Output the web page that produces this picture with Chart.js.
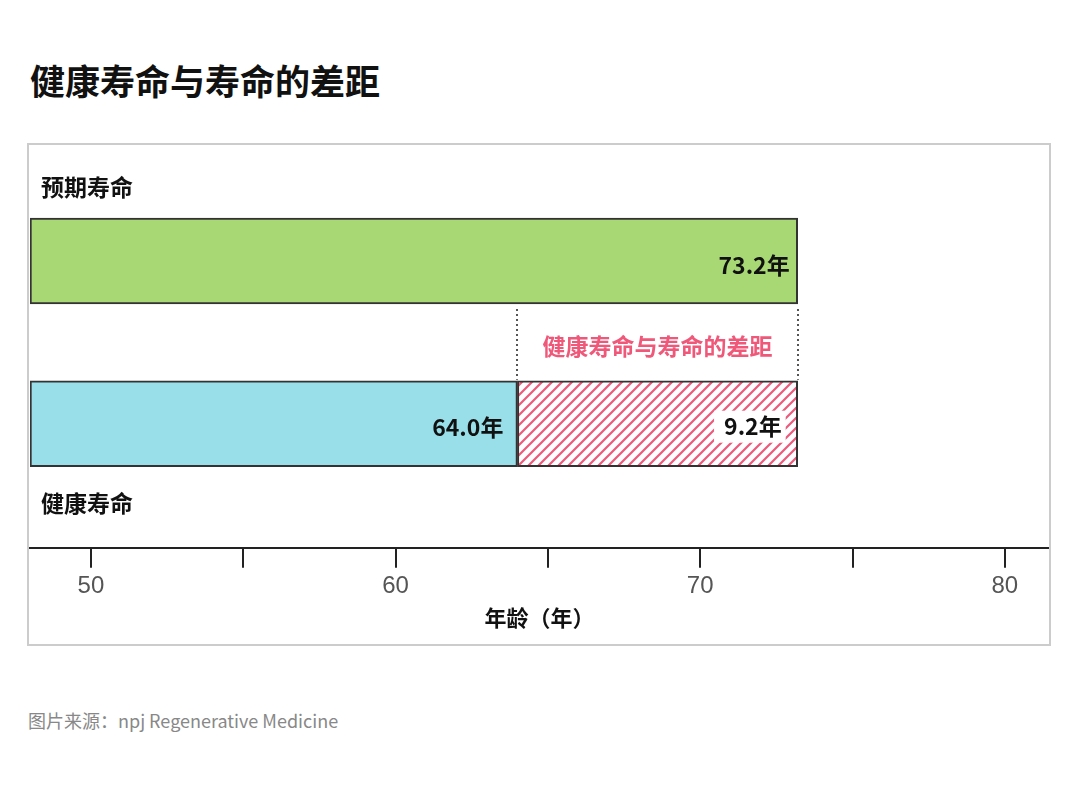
<!DOCTYPE html>
<html><head><meta charset="utf-8">
<script src="https://cdn.jsdelivr.net/npm/chart.js@4"></script>
<style>
body{margin:0;width:1080px;height:810px;background:#fff;font-family:"Noto Sans CJK SC",sans-serif;position:relative}
#t{position:absolute;left:30px;top:54px;font-size:35px;font-weight:bold;color:#111}
#box{position:absolute;left:27px;top:143px;width:1020px;height:499px;border:2px solid #ccc}
#src{position:absolute;left:28px;top:707px;font-size:18px;color:#888}
</style></head><body>
<div id="t">健康寿命与寿命的差距</div>
<div id="box"><canvas id="c" width="1020" height="499"></canvas></div>
<div id="src">图片来源：npj Regenerative Medicine</div>
<script>
const categories=['预期寿命','健康寿命'];
const lifeExpectancy=73.2;
const healthyLife=64.0;
const gapValue=9.2;
const axisMin=48, axisMax=81.45;
const tickLabels=['50','60','70','80'];

const pink='#f0587a';
function hatch(){const p=document.createElement('canvas');p.width=10;p.height=10;const g=p.getContext('2d');
g.fillStyle='#fff';g.fillRect(0,0,10,10);g.strokeStyle=pink;g.lineWidth=2.2;
g.beginPath();g.moveTo(-2,12);g.lineTo(12,-2);g.moveTo(-2,2);g.lineTo(2,-2);g.moveTo(8,12);g.lineTo(12,8);g.stroke();
return g.createPattern(p,'repeat');}
const ctx0=document.getElementById('c').getContext('2d');
const labelPlugin={id:'lbl',afterDatasetsDraw(ch){
 const g=ch.ctx,x=ch.scales.x,y=ch.scales.y;
 g.save();g.font='bold 23px "Noto Sans CJK SC"';g.fillStyle='#111';g.textBaseline='middle';
 g.textAlign='left';g.fillText(categories[0],12,y.getPixelForValue(1)-74);
 g.fillText(categories[1],12,y.getPixelForValue(3)+80);
 g.textAlign='right';
 g.fillText(lifeExpectancy.toFixed(1)+'年',x.getPixelForValue(lifeExpectancy)-8,y.getPixelForValue(1)+4);
 g.fillText(healthyLife.toFixed(1)+'年',x.getPixelForValue(healthyLife)-14,y.getPixelForValue(3)+4);
 const gx=x.getPixelForValue(lifeExpectancy)-16, gy=y.getPixelForValue(3)+2;
 const w=g.measureText(gapValue.toFixed(1)+'年').width;
 g.fillStyle='#fff';g.fillRect(gx-w-10,gy-15,w+14,32);
 g.fillStyle='#111';g.fillText(gapValue.toFixed(1)+'年',gx,gy+1);
 g.strokeStyle='#555';g.lineWidth=2;g.setLineDash([2,3]);
 const t=y.getPixelForValue(1)+48,b=y.getPixelForValue(3)-44;
 [healthyLife,lifeExpectancy].forEach(v=>{const px=Math.round(x.getPixelForValue(v));g.beginPath();g.moveTo(px,t);g.lineTo(px,b);g.stroke();});
 g.setLineDash([]);
 g.fillStyle=pink;g.textAlign='center';g.font='bold 23px "Noto Sans CJK SC"';
 g.fillText('健康寿命与寿命的差距',(x.getPixelForValue(healthyLife)+x.getPixelForValue(lifeExpectancy))/2,y.getPixelForValue(2)+4);
 g.restore();}};
new Chart(ctx0,{type:'bar',
 data:{datasets:[{data:[{x:[axisMin,lifeExpectancy],y:1},{x:[axisMin,healthyLife],y:3},{x:[healthyLife,lifeExpectancy],y:3}],
  backgroundColor:['#a8d874','#98dfea',hatch()],borderColor:'#333',borderWidth:2,borderSkipped:false,barThickness:86}]},
 options:{indexAxis:'y',responsive:false,animation:false,layout:{padding:{left:1,right:0,top:0,bottom:13}},
  plugins:{legend:{display:false},tooltip:{enabled:false}},
  scales:{y:{type:'linear',min:-0.2,max:4.3,reverse:true,display:false},
   x:{type:'linear',min:axisMin,max:axisMax,
    afterBuildTicks(s){s.ticks=[50,55,60,65,70,75,80].map(v=>({value:v}));},
    grid:{drawOnChartArea:false,drawTicks:true,tickLength:20,color:'#222',lineWidth:2},
    border:{color:'#222',width:2},
    ticks:{autoSkip:false,maxRotation:0,padding:4,color:'#555',font:{size:24,family:'"Liberation Sans",sans-serif'},
     callback:v=>tickLabels.includes(String(v))?String(v):''},
    title:{display:true,text:'年龄（年）',color:'#111',font:{size:22,weight:'bold',family:'"Noto Sans CJK SC"'},padding:{top:0,bottom:0}}}}},
 plugins:[labelPlugin]});
</script></body></html>
